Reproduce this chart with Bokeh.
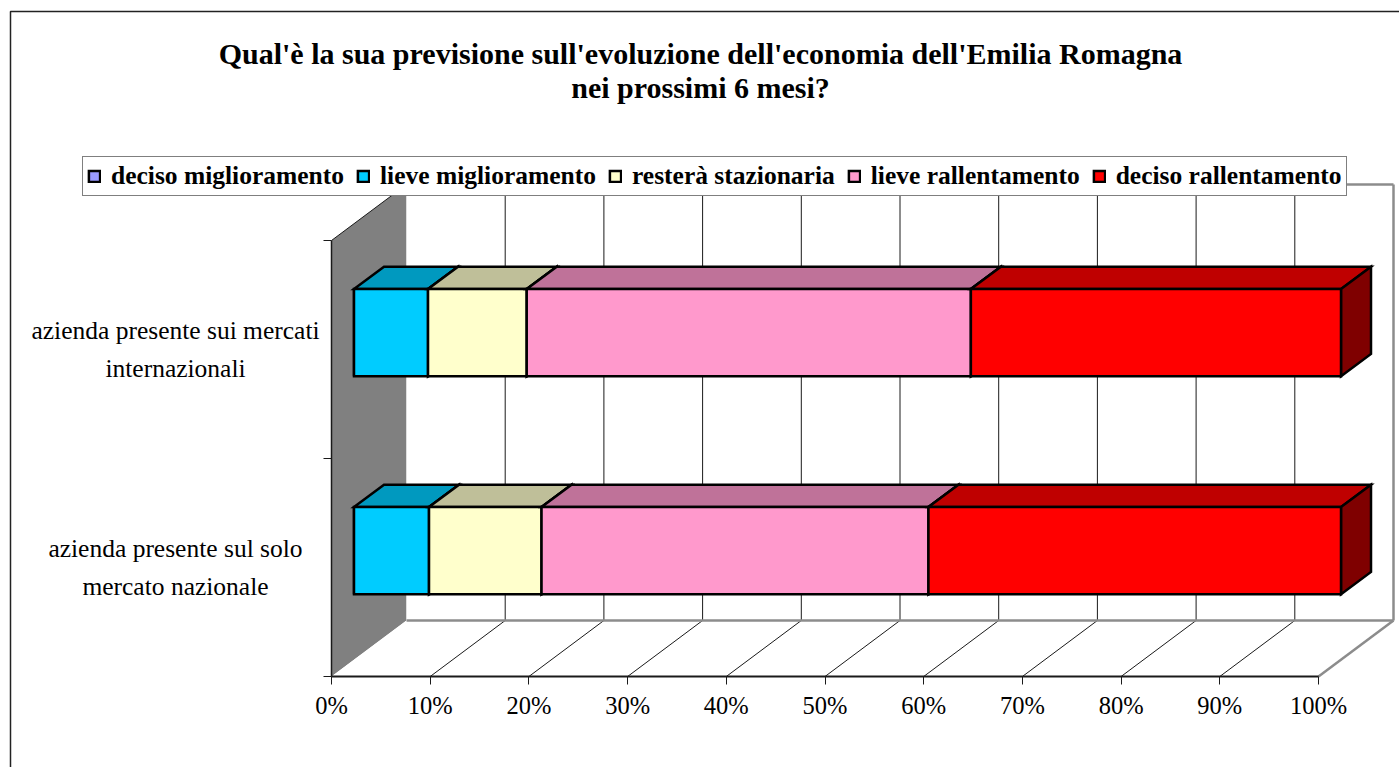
from bokeh.plotting import figure
from bokeh.models import Range1d, LinearAxis, FixedTicker, Legend, LegendItem, ColumnDataSource
from bokeh.core.properties import value
from bokeh.embed import file_html
from bokeh.resources import INLINE

# ---------------- data ----------------
title_lines = ["Qual'è la sua previsione sull'evoluzione dell'economia dell'Emilia Romagna",
               "nei prossimi 6 mesi?"]
categories = ["azienda presente sul solo\nmercato nazionale",
              "azienda presente sui mercati\ninternazionali"]
series = ["deciso miglioramento", "lieve miglioramento", "resterà stazionaria",
          "lieve rallentamento", "deciso rallentamento"]
deciso_miglioramento = [0.0, 0.0]
lieve_miglioramento = [7.6, 7.5]
restera_stazionaria = [11.4, 10.0]
lieve_rallentamento = [39.2, 45.0]
deciso_rallentamento = [41.8, 37.5]
x_ticks = [0, 10, 20, 30, 40, 50, 60, 70, 80, 90, 100]
x_tick_labels = ["0%", "10%", "20%", "30%", "40%", "50%", "60%", "70%", "80%", "90%", "100%"]
colors = ["#9999FF", "#00CCFF", "#FFFFCC", "#FF99CC", "#FF0000"]

# ---------------- layout ----------------
W, H = 1399, 767
X0PX, PX_PER_PCT = 331.0, 9.87      # pixel of 0 %, pixels per percent
Y0PX, PX_PER_CAT = 676.0, 218.0     # pixel of floor front, pixels per category
DX, DY = 75.0 / PX_PER_PCT, 56.0 / PX_PER_CAT   # 3-D depth offset
F, B = 0.3, 0.7                     # bar front / back depth fractions
HALF = 0.2                          # half bar thickness (category units)
SERIF = "Liberation Serif"


def sx(px):
    return (px - X0PX) / PX_PER_PCT


def sy(py):
    return (Y0PX - py) / PX_PER_CAT


def shade(hexcol, f):
    h = hexcol.lstrip("#")
    r, g, b = (int(h[i:i + 2], 16) for i in (0, 2, 4))
    return "#%02X%02X%02X" % (int(r * f), int(g * f), int(b * f))


p = figure(width=W, height=H,
           x_range=Range1d(sx(0), sx(W)), y_range=Range1d(sy(H), sy(0)),
           min_border=0, toolbar_location=None, output_backend="svg",
           x_axis_location=None, y_axis_location=None)
p.xgrid.visible = False
p.ygrid.visible = False
p.outline_line_color = None
p.background_fill_color = "white"
p.border_fill_color = "white"

ncat = len(categories)
xmax = x_ticks[-1]

# chart border (left and top)
p.line(x=[sx(10), sx(10), sx(W)], y=[sy(H), sy(11), sy(11)], line_color="#222222", line_width=1.5)

# walls
p.patch(x=[0, DX, DX, 0], y=[0, DY, ncat + DY, ncat], fill_color="#808080", line_color=None)
p.quad(left=[DX], right=[xmax + DX], bottom=[DY], top=[ncat + DY], fill_color="white", line_color=None)
p.patch(x=[0, xmax, xmax + DX, DX], y=[0, 0, DY, DY], fill_color="white", line_color=None)

inner = x_ticks[1:-1]
p.segment(x0=[t + DX for t in inner], y0=[DY] * len(inner), x1=[t + DX for t in inner],
          y1=[ncat + DY] * len(inner), line_color="#1a1a1a", line_width=1)
p.segment(x0=inner, y0=[0] * len(inner), x1=[t + DX for t in inner], y1=[DY] * len(inner),
          line_color="#1a1a1a", line_width=1)
# gray outer edges of back/right walls and floor
p.segment(x0=[DX, xmax + DX, DX, xmax], y0=[ncat + DY, DY, DY, 0],
          x1=[xmax + DX, xmax + DX, xmax + DX, xmax + DX], y1=[ncat + DY, ncat + DY, DY, DY],
          line_color="#8c8c8c", line_width=2.5)
# left wall top edge
p.segment(x0=[0], y0=[ncat], x1=[DX], y1=[ncat + DY], line_color="#1a1a1a", line_width=1)

# bars
values = [deciso_miglioramento, lieve_miglioramento, restera_stazionaria,
          lieve_rallentamento, deciso_rallentamento]
cum = [0.0] * ncat
legend_items = []
fx, fy, bx, by = F * DX, F * DY, B * DX, B * DY
for name, vals, col in zip(series, values, colors):
    left, right, bottom, top = [], [], [], []
    pxs, pys, pcol = [], [], []
    for c in range(ncat):
        x0 = cum[c]
        x1 = x0 + vals[c]
        cum[c] = x1
        yc = c + 0.5
        yb, yt = yc - HALF, yc + HALF
        left.append(x0 + fx)
        right.append(x1 + fx)
        bottom.append(yb + fy)
        top.append(yt + fy)
        if vals[c] > 0:
            pxs.append([x0 + fx, x1 + fx, x1 + bx, x0 + bx])
            pys.append([yt + fy, yt + fy, yt + by, yt + by])
            pcol.append(shade(col, 0.75))
            pxs.append([x1 + fx, x1 + bx, x1 + bx, x1 + fx])
            pys.append([yb + fy, yb + by, yt + by, yt + fy])
            pcol.append(shade(col, 0.5))
    if pxs:
        p.patches(xs="xs", ys="ys", fill_color="c", line_color="black", line_width=2.5,
                  line_join="miter",
                  source=ColumnDataSource(dict(xs=pxs, ys=pys, c=pcol)))
    r = p.quad(left=left, right=right, bottom=bottom, top=top, fill_color=col,
               line_color="black", line_width=2.5, line_join="miter")
    legend_items.append(LegendItem(label=name, renderers=[r]))

# axes
xaxis = LinearAxis(fixed_location=0, bounds=(0, xmax), ticker=FixedTicker(ticks=x_ticks),
                   major_label_overrides={t: l for t, l in zip(x_ticks, x_tick_labels)},
                   major_tick_out=8, major_tick_in=0, minor_tick_out=0, minor_tick_in=0,
                   axis_line_width=2, axis_line_color="#1a1a1a",
                   major_tick_line_color="#1a1a1a",
                   major_label_text_font=SERIF, major_label_text_font_size="24.5px",
                   major_label_text_color="black", major_label_standoff=7)
p.add_layout(xaxis, "below")
yaxis = LinearAxis(fixed_location=0, bounds=(0, ncat), ticker=FixedTicker(ticks=list(range(ncat + 1))),
                   major_tick_out=8, major_tick_in=0, minor_tick_out=0, minor_tick_in=0,
                   axis_line_width=1.5, axis_line_color="#1a1a1a",
                   major_tick_line_color="#1a1a1a",
                   major_label_text_color=None)
p.add_layout(yaxis, "left")

# category labels
p.text(x=[sx(175)] * ncat, y=[c + 0.5 for c in range(ncat)], text=categories,
       text_align="center", text_baseline="middle", text_font=value(SERIF),
       text_font_size="25.5px", text_color="black", text_line_height=1.3)

# title
p.text(x=[sx(700)] * 2, y=[sy(53), sy(87)], text=title_lines,
       text_align="center", text_baseline="middle", text_font=value(SERIF),
       text_font_size="30px", text_font_style="bold", text_color="black")

legend = Legend(items=legend_items, orientation="horizontal", location=(82, H - 196),
                label_text_font=SERIF, label_text_font_size="25.5px", label_text_font_style="bold",
                label_text_color="black", glyph_width=14, glyph_height=14, label_standoff=10,
                spacing=12, padding=4, margin=0, label_height=24,
                border_line_color="black", border_line_width=1,
                background_fill_color="white", background_fill_alpha=1)
p.add_layout(legend, "center")

open("out.html", "w").write(file_html(p, INLINE))
